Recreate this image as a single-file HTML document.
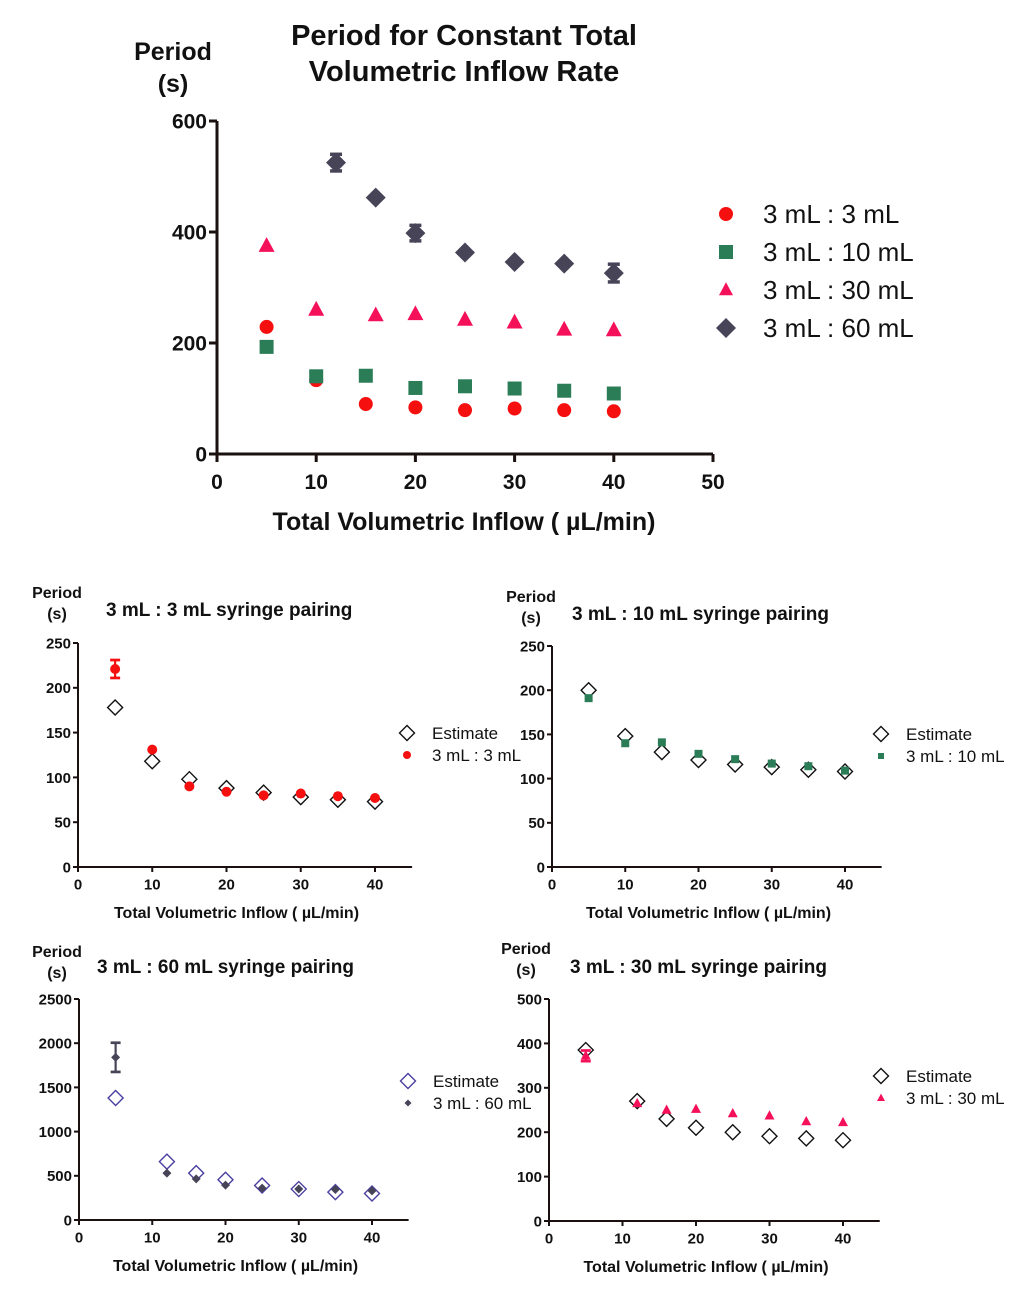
<!DOCTYPE html>
<html><head><meta charset="utf-8"><style>
body{margin:0;background:#fff;width:1024px;height:1290px;overflow:hidden}
svg{position:absolute;left:0;top:0}
text{font-family:"Liberation Sans",Arial,sans-serif}
</style></head><body>
<svg id="chart" width="1024" height="1290" viewBox="0 0 1024 1290" xmlns="http://www.w3.org/2000/svg"></svg>
<script>
// Main chart data
const mainX_circle = [5,10,15,20,25,30,35,40];
const main3mL = [229,133,90,84,79,82,79,77];
const mainX_square = [5,10,15,20,25,30,35,40];
const main10mL = [193,140,141,119,122,118,114,109];
const mainX_tri = [5,10,16,20,25,30,35,40];
const main30mL = [375,260,250,252,242,237,224,223];
const mainX_dia = [12,16,20,25,30,35,40];
const main60mL = [525,462,398,363,346,343,326];
const main60Err = [15,0,14,0,0,0,16];
const mainYTicks = [0,200,400,600];
const mainXTicks = [0,10,20,30,40,50];
// Subplot data
const sub3X = [5,10,15,20,25,30,35,40];
const sub3Data = [221,131,90,84,80,82,79,77];
const sub3Err = [10,0,0,0,0,0,0,0];
const sub3Est = [178,118,98,88,83,78,75,73];
const sub10X = [5,10,15,20,25,30,35,40];
const sub10Data = [191,140,141,128,122,117,114,109];
const sub10Est = [200,148,130,121,116,113,110,108];
const sub60X = [5,12,16,20,25,30,35,40];
const sub60Data = [1840,530,465,395,360,350,345,330];
const sub60Err = [165,0,0,0,0,0,0,0];
const sub60Est = [1380,660,530,455,390,350,315,300];
const sub30X = [5,12,16,20,25,30,35,40];
const sub30Data = [372,265,250,252,242,237,224,222];
const sub30Err = [12,0,0,0,0,0,0,0];
const sub30Est = [385,270,230,210,200,191,186,182];
const subXTicks = [0,10,20,30,40];
const ticks250 = [0,50,100,150,200,250];
const ticks2500 = [0,500,1000,1500,2000,2500];
const ticks500 = [0,100,200,300,400,500];

const svg = document.getElementById('chart');
const NS = 'http://www.w3.org/2000/svg';
function mk(tag, attrs, parent){const e=document.createElementNS(NS,tag);for(const k in attrs)e.setAttribute(k,attrs[k]);(parent||svg).appendChild(e);return e;}
function txt(s,x,y,size,weight,anchor,parent){const t=mk('text',{x:x,y:y,'font-size':size,'font-weight':weight,'text-anchor':anchor,fill:'#111'},parent);t.textContent=s;return t;}

function marker(g,type,cx,cy,r,fill,stroke,sw){
  let e;
  if(type==='circle') e=mk('circle',{cx:cx,cy:cy,r:r,fill:fill},g);
  else if(type==='square') e=mk('rect',{x:cx-r,y:cy-r,width:2*r,height:2*r,fill:fill},g);
  else if(type==='tri') e=mk('polygon',{points:`${cx},${cy-r*1.1} ${cx-r},${cy+r*0.75} ${cx+r},${cy+r*0.75}`,fill:fill},g);
  else e=mk('polygon',{points:`${cx},${cy-r} ${cx+r},${cy} ${cx},${cy+r} ${cx-r},${cy}`,fill:fill,stroke:stroke||'none','stroke-width':sw||0},g);
  return e;
}

function axes(g,o){
  const sx=v=>o.x0+(v-o.xmin)*(o.x1-o.x0)/(o.xmax-o.xmin);
  const sy=v=>o.y0-(v-o.ymin)*(o.y0-o.y1)/(o.ymax-o.ymin);
  const xa=mk('line',{x1:o.x0,y1:o.y0,x2:sx(o.xend),y2:o.y0,stroke:'#1a1010','stroke-width':o.lw},g);
  
  const ya=mk('line',{x1:o.x0,y1:o.y0,x2:o.x0,y2:sy(o.ymax),stroke:'#1a1010','stroke-width':o.lw},g);
  
  o.yt.forEach(v=>{const y=sy(v);mk('line',{x1:o.x0-o.tl,y1:y,x2:o.x0,y2:y,stroke:'#1a1010','stroke-width':o.lw},g);
    const t=txt(v,o.x0-o.tl-2,y+o.fs*0.36,o.fs,'bold','end',g);});
  o.xt.forEach(v=>{const x=sx(v);mk('line',{x1:x,y1:o.y0,x2:x,y2:o.y0+o.tl,stroke:'#1a1010','stroke-width':o.lw},g);
    const t=txt(v,x,o.y0+o.tl+o.fs*0.95+o.xo,o.fs,'bold','middle',g);});
  return {sx,sy};
}
function errbar(g,x,yl,yh,color,w,sw){
  mk('line',{x1:x,y1:yl,x2:x,y2:yh,stroke:color,'stroke-width':sw},g);
  mk('line',{x1:x-w,y1:yl,x2:x+w,y2:yl,stroke:color,'stroke-width':sw+0.5},g);
  mk('line',{x1:x-w,y1:yh,x2:x+w,y2:yh,stroke:color,'stroke-width':sw+0.5},g);
}

// ---------- Main chart ----------
const gm=mk('g',{});
let t;
t=txt('Period for Constant Total',464,45,29,'bold','middle',gm);
t=txt('Volumetric Inflow Rate',464,81,29,'bold','middle',gm);
t=txt('Period',173,60,25,'bold','middle',gm);
t=txt('(s)',173,92,25,'bold','middle',gm);
const M=axes(gm,{x0:217,x1:713,xmin:0,xmax:50,xend:50,y0:454,y1:121,ymin:0,ymax:600,yt:mainYTicks,xt:mainXTicks,lw:3,tl:8,fs:21,xo:7});
t=txt('Total Volumetric Inflow ( µL/min)',464,530,25,'bold','middle',gm);
const RED='#f50f0f',GRN='#2b7d57',PNK='#f5105a',DIA='#474458';
mainX_dia.forEach((x,i)=>{if(main60Err[i])errbar(gm,M.sx(x),M.sy(main60mL[i]-main60Err[i]),M.sy(main60mL[i]+main60Err[i]),DIA,6,3);
  const m=marker(gm,'dia',M.sx(x),M.sy(main60mL[i]),10,DIA);});
mainX_tri.forEach((x,i)=>{const m=marker(gm,'tri',M.sx(x),M.sy(main30mL[i]),8,PNK);});
mainX_circle.forEach((x,i)=>{const m=marker(gm,'circle',M.sx(x),M.sy(main3mL[i]),7,RED);});
mainX_square.forEach((x,i)=>{const m=marker(gm,'square',M.sx(x),M.sy(main10mL[i]),7,GRN);});
const legM=[['circle',RED,'3 mL : 3 mL',214],['square',GRN,'3 mL : 10 mL',252],['tri',PNK,'3 mL : 30 mL',290],['dia',DIA,'3 mL : 60 mL',328]];
legM.forEach(l=>{const g=mk('g',{},gm);
  marker(g,l[0],726,l[3],l[0]==='dia'?10:7,l[1]);txt(l[2],763,l[3]+9,26,'normal','start',g);});

// ---------- Subplots ----------
function subplot(name,o){
  const g=mk('g',{});
  let t=txt('Period',o.px,o.py,16,'bold','middle',g);
  t=txt('(s)',o.px,o.py+21,16,'bold','middle',g);
  t=txt(o.title,o.tx,o.ty,19,'bold','start',g);
  const A=axes(g,{x0:o.x0,x1:o.x40,xmin:0,xmax:40,xend:45,y0:o.y0,y1:o.ytop,ymin:0,ymax:o.ymax,yt:o.yt,xt:subXTicks,lw:2,tl:5,fs:15,xo:3});
  t=txt('Total Volumetric Inflow ( µL/min)',(o.x0+o.x40)/2+10,o.y0+51,16,'bold','middle',g);
  o.xs.forEach((x,i)=>{const m=marker(g,'dia',A.sx(x),A.sy(o.est[i]),7.5,'#fff',o.estColor,1.4);});
  o.xs.forEach((x,i)=>{if(o.err&&o.err[i])errbar(g,A.sx(x),A.sy(o.data[i]-o.err[i]),A.sy(o.data[i]+o.err[i]),o.color,5,2.2);
    const m=marker(g,o.mk,A.sx(x),A.sy(o.data[i]),o.mr,o.color);});
  let lg=mk('g',{},g);
  marker(lg,'dia',o.lx,o.ly,7.5,'#fff',o.estColor,1.4);txt('Estimate',o.lx+25,o.ly+6,17,'normal','start',lg);
  lg=mk('g',{},g);
  marker(lg,o.mk,o.lx,o.ly+22,o.mr-1,o.color);txt(o.lab,o.lx+25,o.ly+28,17,'normal','start',lg);
}
subplot('subplot-3ml-3ml',{px:57,py:598,tx:106,ty:616,title:'3 mL : 3 mL syringe pairing',x0:78,x40:375,y0:867,ytop:643,ymax:250,yt:ticks250,
  xs:sub3X,data:sub3Data,err:sub3Err,est:sub3Est,color:RED,estColor:'#111',mk:'circle',mr:5,lx:407,ly:733,lab:'3 mL : 3 mL'});
subplot('subplot-3ml-10ml',{px:531,py:602,tx:572,ty:620,title:'3 mL : 10 mL syringe pairing',x0:552,x40:845,y0:867,ytop:646,ymax:250,yt:ticks250,
  xs:sub10X,data:sub10Data,est:sub10Est,color:GRN,estColor:'#111',mk:'square',mr:4,lx:881,ly:734,lab:'3 mL : 10 mL'});
subplot('subplot-3ml-60ml',{px:57,py:957,tx:97,ty:973,title:'3 mL : 60 mL syringe pairing',x0:79,x40:372,y0:1220,ytop:999,ymax:2500,yt:ticks2500,
  xs:sub60X,data:sub60Data,err:sub60Err,est:sub60Est,color:DIA,estColor:'#4a3fa0',mk:'dia',mr:4.5,lx:408,ly:1081,lab:'3 mL : 60 mL'});
subplot('subplot-3ml-30ml',{px:526,py:954,tx:570,ty:973,title:'3 mL : 30 mL syringe pairing',x0:549,x40:843,y0:1221,ytop:999,ymax:500,yt:ticks500,
  xs:sub30X,data:sub30Data,err:sub30Err,est:sub30Est,color:PNK,estColor:'#111',mk:'tri',mr:5,lx:881,ly:1076,lab:'3 mL : 30 mL'});
</script>
</body></html>
